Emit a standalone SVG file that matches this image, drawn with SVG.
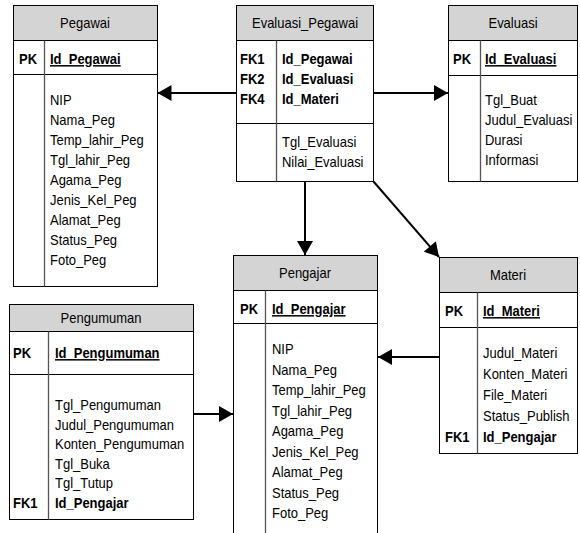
<svg xmlns="http://www.w3.org/2000/svg" width="580" height="533" viewBox="0 0 580 533">
<defs>
<style>
text{font-family:"Liberation Sans",Arial,sans-serif;font-size:15px;fill:#000}
.t{text-anchor:middle}
.b{font-weight:bold}
.u{font-weight:bold;text-decoration:underline}
.box{fill:#fff;stroke:#000;stroke-width:1}
.hd{fill:#d4d4d4;stroke:#000;stroke-width:1}
.ln{stroke:#000;stroke-width:1;fill:none}
.dv{stroke:#555;stroke-width:1.3;fill:none}
.c{stroke:#000;stroke-width:2;fill:none;marker-end:url(#ah)}
</style>
<marker id="ah" markerUnits="userSpaceOnUse" markerWidth="16" markerHeight="16" viewBox="0 0 14 16" refX="14" refY="8" orient="auto">
<path d="M0,0 L14,8 L0,16 Z" fill="#000"/>
</marker>
</defs>
<g id="Pegawai">
<rect class="box" x="13.5" y="5.5" width="144" height="281"/>
<rect class="hd" x="13.5" y="5.5" width="144" height="35"/>
<line class="ln" x1="13.5" y1="74.5" x2="157.5" y2="74.5"/>
<line class="dv" x1="44.5" y1="40.5" x2="44.5" y2="286.5"/>
<text class="t" transform="matrix(0.866 0 0 1 85 28)">Pegawai</text>
<text class="b" transform="matrix(0.866 0 0 1 19 64)">PK</text>
<text class="u" transform="matrix(0.866 0 0 1 50 64)">Id_Pegawai</text>
<text transform="matrix(0.866 0 0 1 50 105)">NIP</text>
<text transform="matrix(0.866 0 0 1 50 125)">Nama_Peg</text>
<text transform="matrix(0.866 0 0 1 50 145)">Temp_lahir_Peg</text>
<text transform="matrix(0.866 0 0 1 50 165)">Tgl_lahir_Peg</text>
<text transform="matrix(0.866 0 0 1 50 185)">Agama_Peg</text>
<text transform="matrix(0.866 0 0 1 50 205)">Jenis_Kel_Peg</text>
<text transform="matrix(0.866 0 0 1 50 225)">Alamat_Peg</text>
<text transform="matrix(0.866 0 0 1 50 245)">Status_Peg</text>
<text transform="matrix(0.866 0 0 1 50 265)">Foto_Peg</text>
</g>
<g id="Evaluasi_Pegawai">
<rect class="box" x="236.5" y="5.5" width="137" height="176"/>
<rect class="hd" x="236.5" y="5.5" width="137" height="35"/>
<line class="ln" x1="236.5" y1="123.5" x2="373.5" y2="123.5"/>
<line class="dv" x1="276.5" y1="40.5" x2="276.5" y2="181.5"/>
<text class="t" transform="matrix(0.866 0 0 1 305 28)">Evaluasi_Pegawai</text>
<text class="b" transform="matrix(0.866 0 0 1 240 64)">FK1</text>
<text class="b" transform="matrix(0.866 0 0 1 240 84)">FK2</text>
<text class="b" transform="matrix(0.866 0 0 1 240 104)">FK4</text>
<text class="b" transform="matrix(0.866 0 0 1 282 64)">Id_Pegawai</text>
<text class="b" transform="matrix(0.866 0 0 1 282 84)">Id_Evaluasi</text>
<text class="b" transform="matrix(0.866 0 0 1 282 104)">Id_Materi</text>
<text transform="matrix(0.866 0 0 1 282 147)">Tgl_Evaluasi</text>
<text transform="matrix(0.866 0 0 1 282 167)">Nilai_Evaluasi</text>
</g>
<g id="Evaluasi">
<rect class="box" x="448.5" y="5.5" width="129" height="176"/>
<rect class="hd" x="448.5" y="5.5" width="129" height="35"/>
<line class="ln" x1="448.5" y1="75.5" x2="577.5" y2="75.5"/>
<line class="dv" x1="480.5" y1="40.5" x2="480.5" y2="181.5"/>
<text class="t" transform="matrix(0.866 0 0 1 513 28)">Evaluasi</text>
<text class="b" transform="matrix(0.866 0 0 1 453 64)">PK</text>
<text class="u" transform="matrix(0.866 0 0 1 485 64)">Id_Evaluasi</text>
<text transform="matrix(0.866 0 0 1 485 105)">Tgl_Buat</text>
<text transform="matrix(0.866 0 0 1 485 125)">Judul_Evaluasi</text>
<text transform="matrix(0.866 0 0 1 485 145)">Durasi</text>
<text transform="matrix(0.866 0 0 1 485 165)">Informasi</text>
</g>
<g id="Pengumuman">
<rect class="box" x="9.5" y="304.5" width="184" height="215"/>
<rect class="hd" x="9.5" y="304.5" width="184" height="27"/>
<line class="ln" x1="9.5" y1="374.5" x2="193.5" y2="374.5"/>
<line class="dv" x1="48.5" y1="331.5" x2="48.5" y2="519.5"/>
<text class="t" transform="matrix(0.866 0 0 1 101 323)">Pengumuman</text>
<text class="b" transform="matrix(0.866 0 0 1 13 358)">PK</text>
<text class="u" transform="matrix(0.866 0 0 1 55 358)">Id_Pengumuman</text>
<text transform="matrix(0.866 0 0 1 55 410)">Tgl_Pengumuman</text>
<text transform="matrix(0.866 0 0 1 55 429.5)">Judul_Pengumuman</text>
<text transform="matrix(0.866 0 0 1 55 449)">Konten_Pengumuman</text>
<text transform="matrix(0.866 0 0 1 55 468.5)">Tgl_Buka</text>
<text transform="matrix(0.866 0 0 1 55 488)">Tgl_Tutup</text>
<text class="b" transform="matrix(0.866 0 0 1 13 507.5)">FK1</text>
<text class="b" transform="matrix(0.866 0 0 1 55 507.5)">Id_Pengajar</text>
</g>
<g id="Pengajar">
<rect class="box" x="233.5" y="255.5" width="144" height="290"/>
<rect class="hd" x="233.5" y="255.5" width="144" height="35"/>
<line class="ln" x1="233.5" y1="323.5" x2="377.5" y2="323.5"/>
<line class="dv" x1="265.5" y1="290.5" x2="265.5" y2="545"/>
<text class="t" transform="matrix(0.866 0 0 1 305 278)">Pengajar</text>
<text class="b" transform="matrix(0.866 0 0 1 240 314)">PK</text>
<text class="u" transform="matrix(0.866 0 0 1 272 314)">Id_Pengajar</text>
<text transform="matrix(0.866 0 0 1 272 354)">NIP</text>
<text transform="matrix(0.866 0 0 1 272 374.5)">Nama_Peg</text>
<text transform="matrix(0.866 0 0 1 272 395)">Temp_lahir_Peg</text>
<text transform="matrix(0.866 0 0 1 272 415.5)">Tgl_lahir_Peg</text>
<text transform="matrix(0.866 0 0 1 272 436)">Agama_Peg</text>
<text transform="matrix(0.866 0 0 1 272 456.5)">Jenis_Kel_Peg</text>
<text transform="matrix(0.866 0 0 1 272 477)">Alamat_Peg</text>
<text transform="matrix(0.866 0 0 1 272 497.5)">Status_Peg</text>
<text transform="matrix(0.866 0 0 1 272 518)">Foto_Peg</text>
</g>
<g id="Materi">
<rect class="box" x="439.5" y="257.5" width="138" height="196"/>
<rect class="hd" x="439.5" y="257.5" width="138" height="35"/>
<line class="ln" x1="439.5" y1="327.5" x2="577.5" y2="327.5"/>
<line class="dv" x1="477.5" y1="292.5" x2="477.5" y2="453.5"/>
<text class="t" transform="matrix(0.866 0 0 1 508 280)">Materi</text>
<text class="b" transform="matrix(0.866 0 0 1 445 316)">PK</text>
<text class="u" transform="matrix(0.866 0 0 1 483 316)">Id_Materi</text>
<text transform="matrix(0.866 0 0 1 483 358)">Judul_Materi</text>
<text transform="matrix(0.866 0 0 1 483 379)">Konten_Materi</text>
<text transform="matrix(0.866 0 0 1 483 400)">File_Materi</text>
<text transform="matrix(0.866 0 0 1 483 421)">Status_Publish</text>
<text class="b" transform="matrix(0.866 0 0 1 445 442)">FK1</text>
<text class="b" transform="matrix(0.866 0 0 1 483 442)">Id_Pengajar</text>
</g>
<g id="connectors">
<line class="c" x1="236" y1="93" x2="157.5" y2="93"/>
<line class="c" x1="374" y1="93" x2="448" y2="93"/>
<line class="c" x1="305" y1="182" x2="305" y2="255"/>
<line class="c" x1="373.5" y1="181.5" x2="439" y2="257"/>
<line class="c" x1="439" y1="357" x2="378" y2="357"/>
<line class="c" x1="193.5" y1="414" x2="233" y2="414"/>
</g>
</svg>
